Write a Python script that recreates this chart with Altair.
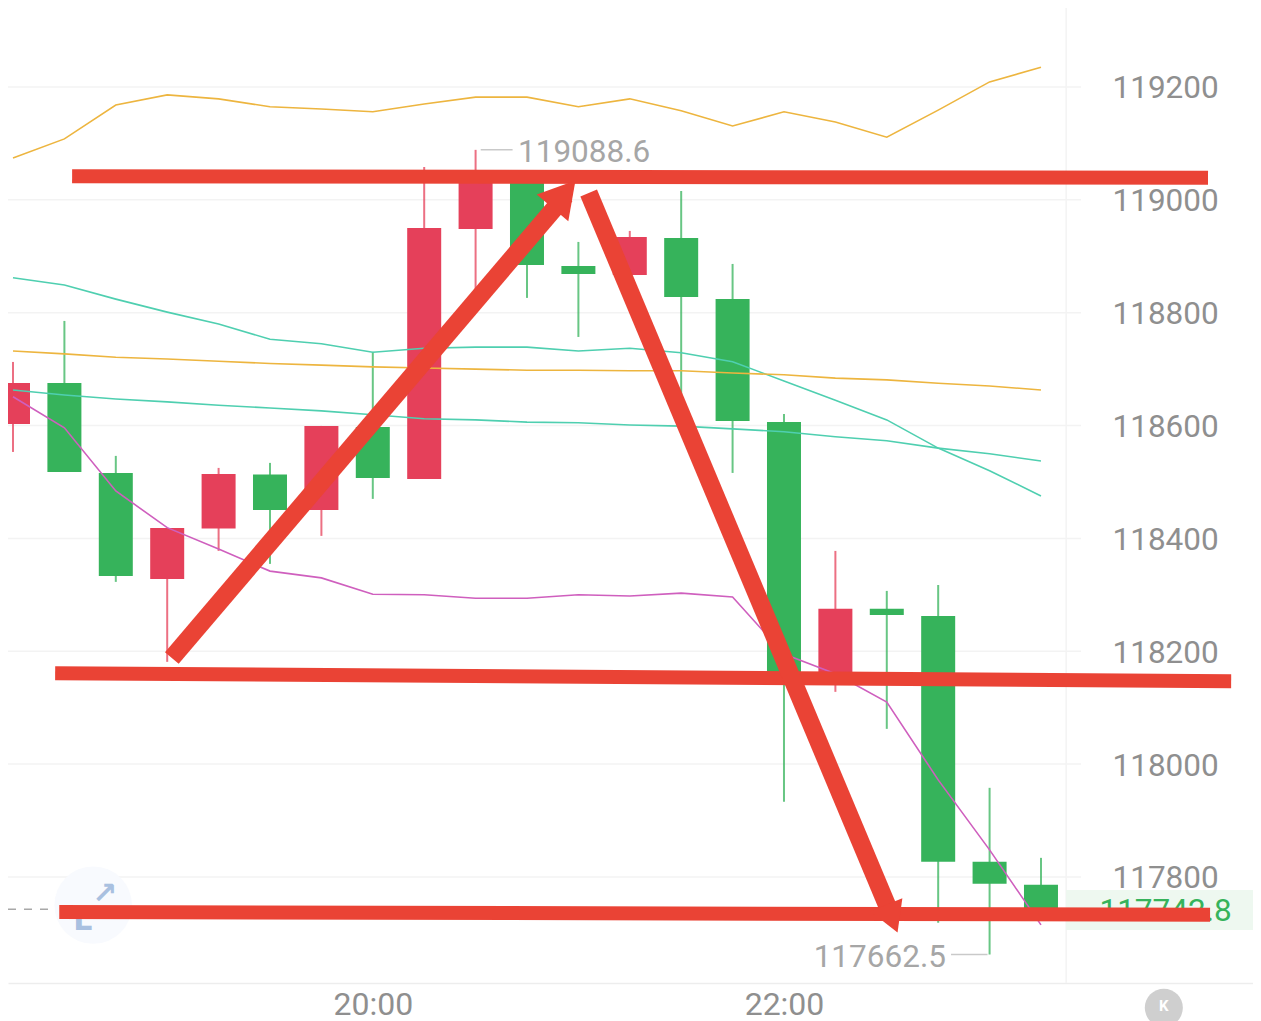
import altair as alt
import pandas as pd

slots = list(range(21))
highs = [118712.7,118785.4,118546.2,118418.6,118524.9,118533.8,118599.3,118730.5,119058.3,119088.6,119049.4,118925.4,118944.9,119015.7,118886.4,118620.6,118377.8,118306.9,118317.6,117957.9,117833.8]
lows = [118553.2,118517.8,118322.9,118181.2,118377.8,118354.8,118404.4,118470.0,118505.4,118799.6,118826.2,118757.0,118866.9,118650.7,118516.0,117933.1,118128.0,118062.4,117718.6,117662.5,117742.8]
body_top = [118675.5,118675.5,118516.0,118418.6,118514.3,118513.4,118599.3,118597.6,118950.2,119038.8,119038.8,118882.8,118934.2,118932.5,118824.4,118606.4,118275.1,118275.1,118262.6,117826.7,117786.0]
body_bot = [118602.9,118517.8,118333.5,118328.2,118417.7,118450.5,118450.5,118507.2,118505.4,118948.4,118884.6,118868.7,118866.9,118827.9,118608.2,118149.2,118140.4,118264.4,117826.7,117787.8,117742.8]
direction = ["up","down","down","up","up","down","up","down","up","up","down","down","up","down","down","down","up","down","down","down","down"]

ma_yellow_top = [119074,119108,119168,119186,119179,119165,119161,119156,119170,119182,119182,119165,119179,119158,119131,119156,119138,119111,119159,119209,119235]
ma_teal_top = [118862,118849,118824,118801,118780,118753,118745,118730,118737,118739,118739,118732,118737,118729,118713,118679,118645,118610,118560,118520,118475]
ma_yellow_low = [118732,118727,118721,118718,118714,118710,118707,118704,118702,118700,118698,118698,118697,118697,118693,118690,118684,118681,118675,118670,118663]
ma_teal_low = [118663,118654,118647,118642,118636,118631,118626,118619,118612,118610,118606,118605,118601,118599,118594,118589,118580,118573,118560,118550,118537]
ma_magenta = [118651,118596,118484,118419,118381,118342,118330,118301,118300,118294,118294,118300,118298,118303,118296,118195,118160,118110,117972,117848,117715]

price_ticks = [119200,119000,118800,118600,118400,118200,118000,117800]
time_ticks = [7,15]
time_labels = ["20:00","22:00"]
last_price = 117742.8
max_price = 119088.6
min_price = 117662.5

strokes_x = [[1.15,23.25],[0.82,23.70],[0.90,23.29],[3.09,10.75],[11.20,17.05]]
strokes_y = [[119042,119039],[118161,118147],[117738,117733],[118188,119008],[119012,117740]]
stroke_widths = [14,14,14,18,18]
head_x = [10.72,17.10]
head_y = [119010,117726]
head_angle = [40,158]
head_size = [1700,1200]

X_DOMAIN = [-0.0973,24.125]
Y_DOMAIN = [117612,119340]
RED_UP = "#E5405A"
GREEN_DOWN = "#36B35B"
MARK_RED = "#EA4335"
GREY = "#8F8F8F"
FONT = "Roboto"

x_scale = alt.Scale(domain=X_DOMAIN, nice=False, zero=False, padding=0)
y_scale = alt.Scale(domain=Y_DOMAIN, nice=False, zero=False, padding=0)
x_axis = alt.Axis(
    values=time_ticks, labelExpr="datum.value==7?'%s':'%s'" % tuple(time_labels),
    grid=False, ticks=False, domainColor="#EDEDED", domainWidth=1.5,
    labelFont=FONT, labelFontSize=32, labelColor=GREY, labelPadding=6, labelBaseline="top")
y_axis = alt.Axis(
    orient="right", offset=-141, values=price_ticks, format="d", grid=False, ticks=False, domain=False,
    labelFont=FONT, labelFontSize=31.5, labelColor=GREY, labelPadding=0, labelOverlap=False,
    labelBaseline="middle", labelAlign="left", labelOffset=2)
xe = lambda f="x": alt.X(f"{f}:Q", scale=x_scale, axis=x_axis, title=None)
ye = lambda f="y": alt.Y(f"{f}:Q", scale=y_scale, axis=y_axis, title=None)
color = alt.Color("dir:N", scale=alt.Scale(domain=["up","down"], range=[RED_UP,GREEN_DOWN]), legend=None)

candles = pd.DataFrame({"x":slots,"h":highs,"l":lows,"t":body_top,"b":body_bot,"dir":direction})

grid = alt.Chart(pd.DataFrame({"y":price_ticks,"x":[-0.0973]*8,"x2":[20.78]*8})).mark_rule(
    color="#F3F3F3", strokeWidth=1.5).encode(x=xe(), x2="x2:Q", y=ye())
vline = alt.Chart(pd.DataFrame({"x":[20.49],"y":[Y_DOMAIN[0]],"y2":[Y_DOMAIN[1]]})).mark_rule(
    color="#F3F3F3", strokeWidth=1.5).encode(x=xe(), y=ye(), y2="y2:Q")

tag = alt.Chart(pd.DataFrame({"x":[20.49],"x2":[24.125],"y":[117777],"y2":[117706]})).mark_rect(
    color="#EEF8F0").encode(x=xe(), x2="x2:Q", y=ye(), y2="y2:Q")
tag_text = alt.Chart(pd.DataFrame({"x":[23.71],"y":[last_price],"s":[f"{last_price:.1f}"]})).mark_text(
    align="right", baseline="middle", font=FONT, fontSize=31.5, dy=3, color=GREEN_DOWN).encode(x=xe(), y=ye(), text="s:N")
dash = alt.Chart(pd.DataFrame({"x":[-0.0973],"x2":[1.0],"y":[last_price]})).mark_rule(
    color="#A8A8A8", strokeWidth=1.5, strokeDash=[8,8]).encode(x=xe(), x2="x2:Q", y=ye())

halo = alt.Chart(pd.DataFrame({"x":[1.56],"y":[117750]})).mark_point(
    filled=True, size=6000, color="#F8FAFE", opacity=1).encode(x=xe(), y=ye())
glyph = alt.Chart(pd.DataFrame({"x":[1.78,1.36],"y":[117770,117722],"s":["\u2197","L"]})).mark_text(
    font="DejaVu Sans", fontSize=30, fontWeight="bold", color="#A9C0E0").encode(x=xe(), y=ye(), text="s:N")

wick = alt.Chart(candles).mark_rule(strokeWidth=2, opacity=0.75, clip=True).encode(
    x=xe(), y=ye("h"), y2="l:Q", color=color)
body = alt.Chart(candles).mark_bar(size=34, orient="vertical", clip=True).encode(
    x=xe(), y=ye("t"), y2="b:Q", color=color)

def ma(vals, col):
    return alt.Chart(pd.DataFrame({"x":slots,"y":vals})).mark_line(color=col, strokeWidth=1.6, clip=True).encode(x=xe(), y=ye())

lines = [ma(ma_yellow_top,"#EDB53F"), ma(ma_teal_top,"#4FCFB0"), ma(ma_yellow_low,"#EDB53F"),
         ma(ma_teal_low,"#4FCFB0"), ma(ma_magenta,"#CF5FBE")]

extreme_lines = alt.Chart(pd.DataFrame({"x":[9.1,18.25],"x2":[9.72,18.96],"y":[max_price,min_price]})).mark_rule(
    color="#C9C9C9", strokeWidth=1.5).encode(x=xe(), x2="x2:Q", y=ye())
extreme_text = alt.Chart(pd.DataFrame({"x":[9.825,18.15],"y":[max_price,min_price],
    "s":[f"{max_price:.1f}",f"{min_price:.1f}"],"a":["left","right"]}))
hi_text = extreme_text.transform_filter("datum.a=='left'").mark_text(
    align="left", baseline="middle", font=FONT, fontSize=31.5, dy=3, color="#A6A6A6").encode(x=xe(), y=ye(), text="s:N")
lo_text = extreme_text.transform_filter("datum.a=='right'").mark_text(
    align="right", baseline="middle", font=FONT, fontSize=31.5, dy=3, color="#A6A6A6").encode(x=xe(), y=ye(), text="s:N")

strokes = []
for xs, ys, w in zip(strokes_x, strokes_y, stroke_widths):
    strokes.append(alt.Chart(pd.DataFrame({"x":xs,"y":ys})).mark_line(
        color=MARK_RED, strokeWidth=w, strokeCap="butt").encode(x=xe(), y=ye()))
heads = [alt.Chart(pd.DataFrame({"x":[hx],"y":[hy]})).mark_point(
            shape="triangle-up", filled=True, opacity=1, color=MARK_RED, size=s, angle=a).encode(x=xe(), y=ye())
         for hx, hy, a, s in zip(head_x, head_y, head_angle, head_size)]

k_badge = alt.Chart(pd.DataFrame({"x":[22.39],"y":[117568]})).mark_point(
    filled=True, opacity=1, size=1450, color="#CFCFCF").encode(x=xe(), y=ye())
k_text = alt.Chart(pd.DataFrame({"x":[22.39],"y":[117572],"s":["K"]})).mark_text(
    font=FONT, fontSize=15, fontWeight="bold", color="#FFFFFF").encode(x=xe(), y=ye(), text="s:N")

chart = alt.layer(
    grid, vline, tag, tag_text, dash, halo, glyph, wick, body, *lines,
    extreme_lines, hi_text, lo_text, *strokes, *heads, k_badge, k_text
).properties(
    width=1245, height=975,
    autosize=alt.AutoSizeParams(type="none"),
    padding={"left":0,"top":0,"right":0,"bottom":38},
    background="#FFFFFF",
).configure_view(stroke=None)

chart.save("out.html", embed_options={"renderer": "svg", "actions": False})
